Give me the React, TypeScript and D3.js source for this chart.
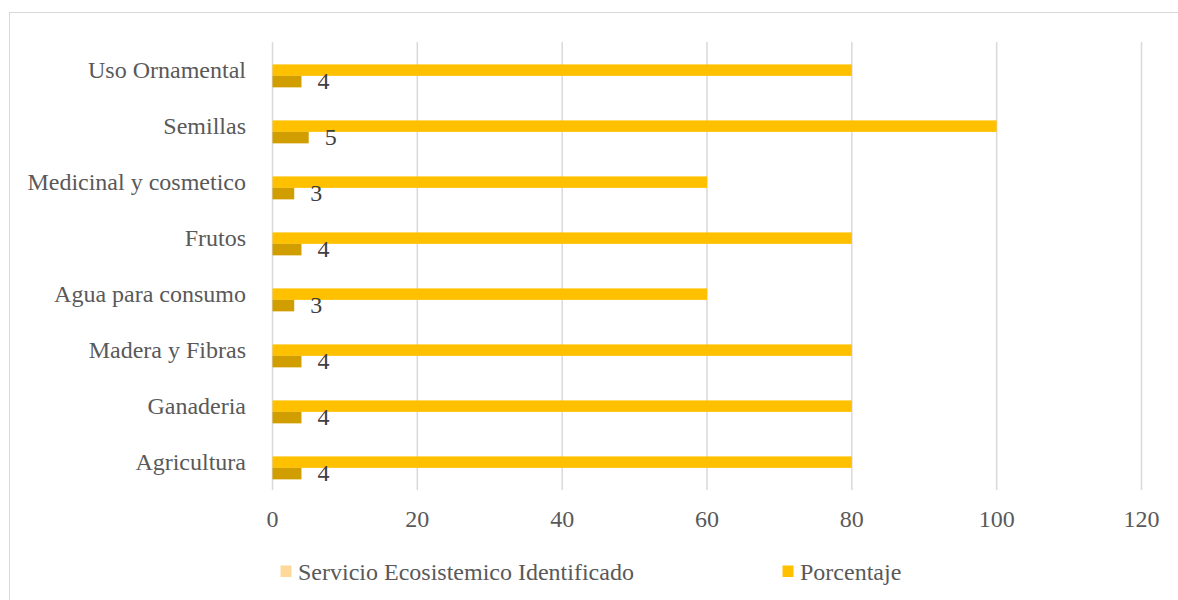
import React from "react";
import * as d3 from "d3";

const categories = ["Uso Ornamental", "Semillas", "Medicinal y cosmetico", "Frutos", "Agua para consumo", "Madera y Fibras", "Ganaderia", "Agricultura"];
const servicioValues = [4, 5, 3, 4, 3, 4, 4, 4];
const porcentajeValues = [80, 100, 60, 80, 60, 80, 80, 80];
const xTicks = [0, 20, 40, 60, 80, 100, 120];
const seriesNames = ["Servicio Ecosistemico Identificado", "Porcentaje"];

export default function App() {
  const W = 1178, H = 600;
  const x = d3.scaleLinear().domain([0, 120]).range([272.5, 1141.5]);
  const y = d3.scaleBand<string>().domain(categories).range([42, 490]);
  const bw = y.bandwidth();
  const textColor = "#595959";
  const barH = bw * 0.205;
  const tStyle = { fontFamily: "Liberation Serif, Tinos, Times New Roman, serif", fontSize: "24px" };
  return (
    <svg width={W} height={H} style={{ position: "absolute", left: 0, top: 0, background: "#fff" }}>
      <rect x={9.5} y={12.5} width={1200} height={620} fill="#fff" stroke="#D9D9D9" strokeWidth={1} />
      {xTicks.map((t) => (
        <line key={t} x1={x(t)} x2={x(t)} y1={42} y2={490} stroke="#D9D9D9" strokeWidth={1.5} />
      ))}
      {categories.map((c, i) => {
        const y0 = y(c)!;
        return (
          <g key={c}>
            <rect x={x(0)} y={y0 + bw * 0.4} width={x(porcentajeValues[i]) - x(0)} height={barH} fill="#FFC000" />
            <rect x={x(0)} y={y0 + bw * 0.4 + barH} width={x(servicioValues[i]) - x(0)} height={barH} fill="#D09E00" />
            <text x={x(servicioValues[i]) + 16} y={y0 + bw * 0.4 + barH * 2 + 2} style={tStyle} fill="#404040">
              {servicioValues[i]}
            </text>
            <text x={246} y={y0 + bw / 2} dy="0.32em" textAnchor="end" style={tStyle} fill={textColor}>
              {c}
            </text>
          </g>
        );
      })}
      {xTicks.map((t) => (
        <text key={"l" + t} x={x(t)} y={527} textAnchor="middle" style={tStyle} fill={textColor}>
          {t}
        </text>
      ))}
      <rect x={280.5} y={565.5} width={11} height={11.5} fill="#FFD99A" />
      <text x={298} y={580} style={tStyle} fill={textColor}>{seriesNames[0]}</text>
      <rect x={782.5} y={565.5} width={11} height={11.5} fill="#FFC000" />
      <text x={800} y={580} style={tStyle} fill={textColor}>{seriesNames[1]}</text>
    </svg>
  );
}
